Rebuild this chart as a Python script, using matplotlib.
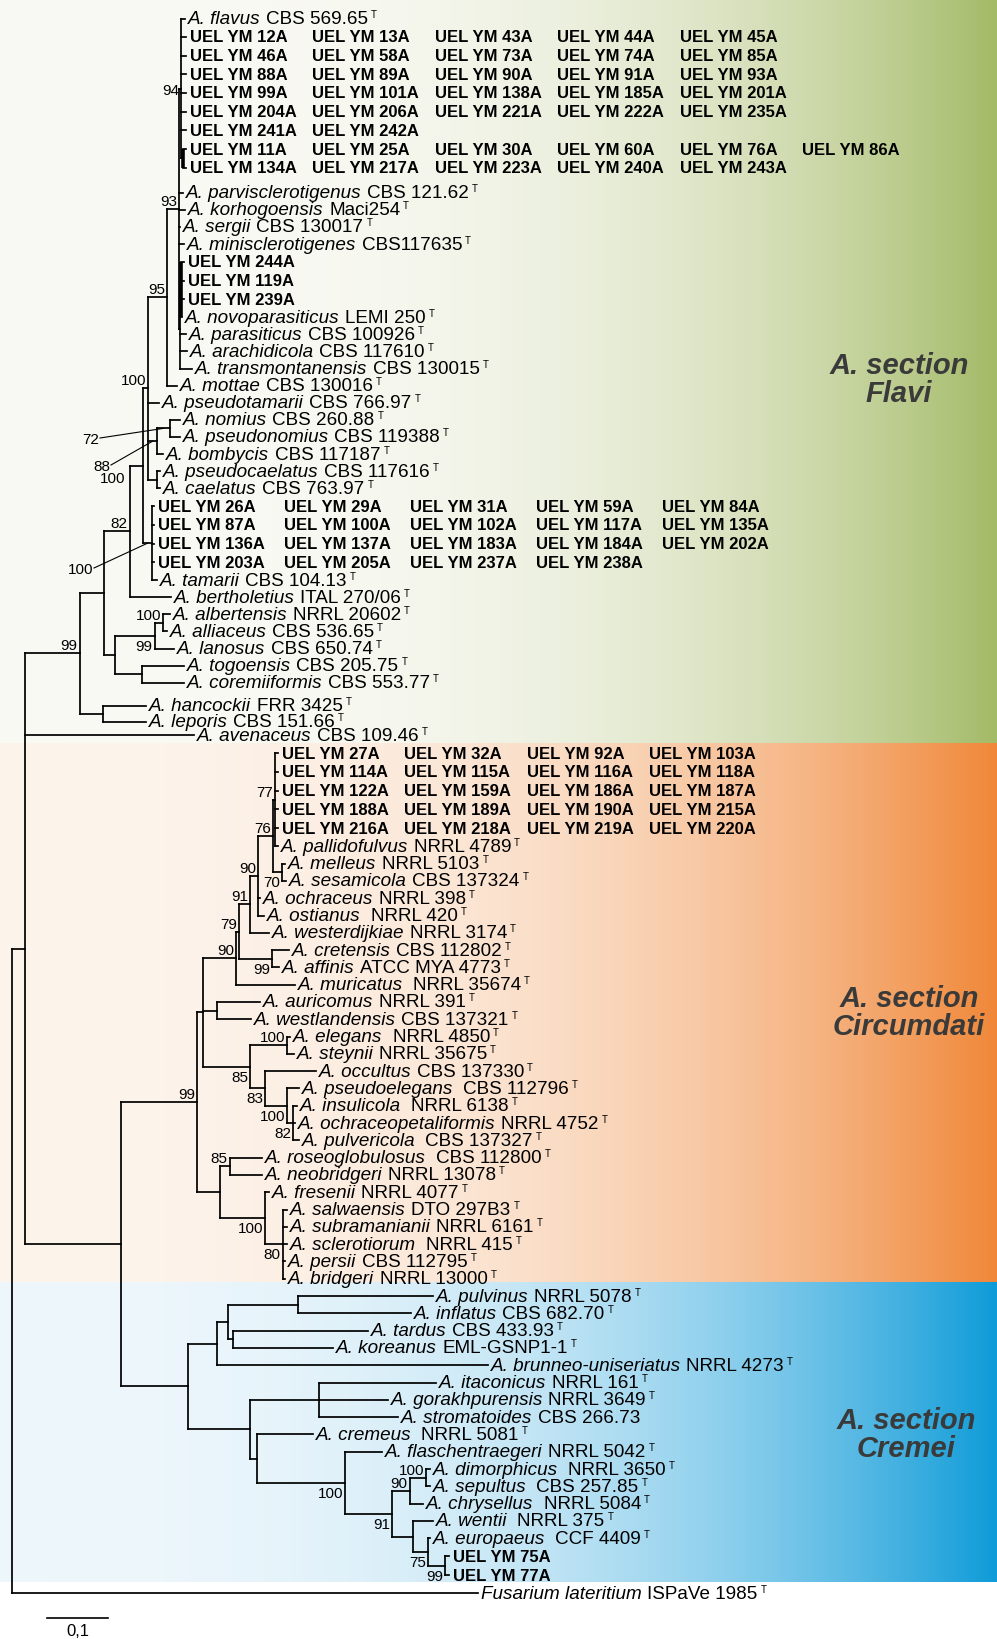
import numpy as np
import matplotlib
matplotlib.use("Agg")
import matplotlib.pyplot as plt
from matplotlib.collections import LineCollection

plt.rcParams['font.family'] = ['Liberation Sans', 'DejaVu Sans']

W, H, DPI = 997, 1640, 100
UNIT_PX = 610.0          # pixels per 1.0 substitution/site (scale bar 0.1 = 61 px)
ROOT_PX = 12.0

# ------------------------------------------------------------------ data
# leaves: key, italic name (None = UEL isolates row), strain / isolate ids, tip depth, type strain
FLAVI = [
    ("flavus", "A. flavus", "CBS 569.65", 0.284, True),
    ("uf1", None, "12A 13A 43A 44A 45A", 0.285, False),
    ("uf2", None, "46A 58A 73A 74A 85A", 0.285, False),
    ("uf3", None, "88A 89A 90A 91A 93A", 0.285, False),
    ("uf4", None, "99A 101A 138A 185A 201A", 0.285, False),
    ("uf5", None, "204A 206A 221A 222A 235A", 0.285, False),
    ("uf6", None, "241A 242A", 0.285, False),
    ("uf7", None, "11A 25A 30A 60A 76A 86A", 0.285, False),
    ("uf8", None, "134A 217A 223A 240A 243A", 0.285, False),
    ("parvisclerotigenus", "A. parvisclerotigenus", "CBS 121.62", 0.280, True),
    ("korhogoensis", "A. korhogoensis", "Maci254", 0.284, True),
    ("sergii", "A. sergii", "CBS 130017", 0.275, True),
    ("minisclerotigenes", "A. minisclerotigenes", "CBS117635", 0.282, True),
    ("uf9", None, "244A", 0.282, False),
    ("uf10", None, "119A", 0.282, False),
    ("uf11", None, "239A", 0.282, False),
    ("novoparasiticus", "A. novoparasiticus", "LEMI 250", 0.279, True),
    ("parasiticus", "A. parasiticus", "CBS 100926", 0.285, True),
    ("arachidicola", "A. arachidicola", "CBS 117610", 0.287, True),
    ("transmontanensis", "A. transmontanensis", "CBS 130015", 0.295, True),
    ("mottae", "A. mottae", "CBS 130016", 0.270, True),
    ("pseudotamarii", "A. pseudotamarii", "CBS 766.97", 0.241, True),
    ("nomius", "A. nomius", "CBS 260.88", 0.275, True),
    ("pseudonomius", "A. pseudonomius", "CBS 119388", 0.275, True),
    ("bombycis", "A. bombycis", "CBS 117187", 0.248, True),
    ("pseudocaelatus", "A. pseudocaelatus", "CBS 117616", 0.243, True),
    ("caelatus", "A. caelatus", "CBS 763.97", 0.243, True),
    ("uf12", None, "26A 29A 31A 59A 84A", 0.233, False),
    ("uf13", None, "87A 100A 102A 117A 135A", 0.233, False),
    ("uf14", None, "136A 137A 183A 184A 202A", 0.233, False),
    ("uf15", None, "203A 205A 237A 238A", 0.233, False),
    ("tamarii", "A. tamarii", "CBS 104.13", 0.238, True),
    ("bertholetius", "A. bertholetius", "ITAL 270/06", 0.261, True),
    ("albertensis", "A. albertensis", "NRRL 20602", 0.259, True),
    ("alliaceus", "A. alliaceus", "CBS 536.65", 0.254, True),
    ("lanosus", "A. lanosus", "CBS 650.74", 0.266, True),
    ("togoensis", "A. togoensis", "CBS 205.75", 0.282, True),
    ("coremiiformis", "A. coremiiformis", "CBS 553.77", 0.282, True),
    ("hancockii", "A. hancockii", "FRR 3425", 0.220, True),
    ("leporis", "A. leporis", "CBS 151.66", 0.220, True),
    ("avenaceus", "A. avenaceus", "CBS 109.46", 0.298, True),
]

CIRCUMDATI = [
    ("uc1", None, "27A 32A 92A 103A", 0.436, False),
    ("uc2", None, "114A 115A 116A 118A", 0.436, False),
    ("uc3", None, "122A 159A 186A 187A", 0.436, False),
    ("uc4", None, "188A 189A 190A 215A", 0.436, False),
    ("uc5", None, "216A 218A 219A 220A", 0.436, False),
    ("pallidofulvus", "A. pallidofulvus", "NRRL 4789", 0.436, True),
    ("melleus", "A. melleus", "NRRL 5103", 0.448, True),
    ("sesamicola", "A. sesamicola", "CBS 137324", 0.449, True),
    ("ochraceus", "A. ochraceus", "NRRL 398", 0.407, True),
    ("ostianus", "A. ostianus", " NRRL 420", 0.413, True),
    ("westerdijkiae", "A. westerdijkiae", "NRRL 3174", 0.421, True),
    ("cretensis", "A. cretensis", "CBS 112802", 0.454, True),
    ("affinis", "A. affinis", "ATCC MYA 4773", 0.438, True),
    ("muricatus", "A. muricatus", " NRRL 35674", 0.464, True),
    ("auricomus", "A. auricomus", "NRRL 391", 0.407, True),
    ("westlandensis", "A. westlandensis", "CBS 137321", 0.392, True),
    ("elegans", "A. elegans", " NRRL 4850", 0.456, True),
    ("steynii", "A. steynii", "NRRL 35675", 0.462, True),
    ("occultus", "A. occultus", "CBS 137330", 0.498, True),
    ("pseudoelegans", "A. pseudoelegans", " CBS 112796", 0.470, True),
    ("insulicola", "A. insulicola", " NRRL 6138", 0.467, True),
    ("ochraceopetaliformis", "A. ochraceopetaliformis", "NRRL 4752", 0.464, True),
    ("pulvericola", "A. pulvericola", " CBS 137327", 0.470, True),
    ("roseoglobulosus", "A. roseoglobulosus", " CBS 112800", 0.410, True),
    ("neobridgeri", "A. neobridgeri", "NRRL 13078", 0.410, True),
    ("fresenii", "A. fresenii", "NRRL 4077", 0.421, True),
    ("salwaensis", "A. salwaensis", "DTO 297B3", 0.451, True),
    ("subramanianii", "A. subramanianii", "NRRL 6161", 0.451, True),
    ("sclerotiorum", "A. sclerotiorum", " NRRL 415", 0.451, True),
    ("persii", "A. persii", "CBS 112795", 0.448, True),
    ("bridgeri", "A. bridgeri", "NRRL 13000", 0.448, True),
]

CREMEI = [
    ("pulvinus", "A. pulvinus", "NRRL 5078", 0.690, True),
    ("inflatus", "A. inflatus", "CBS 682.70", 0.654, True),
    ("tardus", "A. tardus", "CBS 433.93", 0.584, True),
    ("koreanus", "A. koreanus", "EML-GSNP1-1", 0.526, True),
    ("brunneouniseriatus", "A. brunneo-uniseriatus", "NRRL 4273", 0.780, True),
    ("itaconicus", "A. itaconicus", "NRRL 161", 0.695, True),
    ("gorakhpurensis", "A. gorakhpurensis", "NRRL 3649", 0.616, True),
    ("stromatoides", "A. stromatoides", "CBS 266.73", 0.633, False),
    ("cremeus", "A. cremeus", " NRRL 5081", 0.493, True),
    ("flaschentraegeri", "A. flaschentraegeri", "NRRL 5042", 0.607, True),
    ("dimorphicus", "A. dimorphicus", " NRRL 3650", 0.685, True),
    ("sepultus", "A. sepultus", " CBS 257.85", 0.685, True),
    ("chrysellus", "A. chrysellus", " NRRL 5084", 0.674, True),
    ("wentii", "A. wentii", " NRRL 375", 0.690, True),
    ("europaeus", "A. europaeus", " CCF 4409", 0.685, True),
    ("ucr1", None, "75A", 0.716, False),
    ("ucr2", None, "77A", 0.716, False),
]

OUTGROUP = [
    ("fusarium", "Fusarium lateritium", "ISPaVe 1985", 0.764, True),
]

# internal nodes: name, depth, children (top to bottom), bootstrap support
NODES_FLAVI = [
    ("nA", 0.280, ["uf7", "uf8"], None),
    ("n94", 0.277, ["flavus", "uf1", "uf2", "uf3", "uf4", "uf5", "uf6", "nA"], 94),
    ("nB", 0.277, ["uf9", "uf10", "uf11", "novoparasiticus"], None),
    ("nZ", 0.275, ["nB", "parasiticus", "arachidicola", "transmontanensis"], None),
    ("n93", 0.274, ["n94", "parvisclerotigenus", "korhogoensis", "sergii", "minisclerotigenes", "nZ"], 93),
    ("n95", 0.254, ["n93", "mottae"], 95),
    ("n72", 0.259, ["nomius", "pseudonomius"], 72),
    ("n88", 0.238, ["n72", "bombycis"], 88),
    ("nCael", 0.238, ["pseudocaelatus", "caelatus"], 100),
    ("n100a", 0.223, ["n95", "pseudotamarii", "n88", "nCael"], 100),
    ("nTam", 0.230, ["uf12", "uf13", "uf14", "uf15", "tamarii"], 100),
    ("n143", 0.215, ["n100a", "nTam"], None),
    ("n82", 0.193, ["n143", "bertholetius"], 82),
    ("nAlb", 0.248, ["albertensis", "alliaceus"], 100),
    ("nLan", 0.234, ["nAlb", "lanosus"], 99),
    ("nTogo", 0.213, ["togoensis", "coremiiformis"], None),
    ("n115", 0.169, ["nLan", "nTogo"], None),
    ("n104", 0.151, ["n82", "n115"], None),
    ("nHan", 0.149, ["hancockii", "leporis"], None),
    ("n99F", 0.111, ["n104", "nHan"], 99),
]

NODES_CIRC = [
    ("n77", 0.431, ["uc1", "uc2", "uc3", "uc4", "uc5", "pallidofulvus"], 77),
    ("n70", 0.443, ["melleus", "sesamicola"], 70),
    ("n76", 0.428, ["n77", "n70"], 76),
    ("n90a", 0.403, ["n76", "ochraceus", "ostianus"], 90),
    ("n91", 0.390, ["n90a", "westerdijkiae"], 91),
    ("nCre", 0.426, ["cretensis", "affinis"], 99),
    ("n79", 0.372, ["n91", "nCre"], 79),
    ("n90b", 0.367, ["n79", "muricatus"], 90),
    ("n217", 0.336, ["auricomus", "westlandensis"], None),
    ("nEle", 0.451, ["elegans", "steynii"], 100),
    ("n82c", 0.461, ["insulicola", "ochraceopetaliformis", "pulvericola"], 82),
    ("n100c", 0.451, ["pseudoelegans", "n82c"], 100),
    ("n83", 0.415, ["occultus", "n100c"], 83),
    ("n85", 0.390, ["nEle", "n83"], 85),
    ("n203", 0.313, ["n90b", "n217", "n85"], None),
    ("nRos", 0.357, ["roseoglobulosus", "neobridgeri"], 85),
    ("n80", 0.444, ["salwaensis", "subramanianii", "sclerotiorum", "persii", "bridgeri"], 80),
    ("n100d", 0.415, ["fresenii", "n80"], 100),
    ("n220", 0.341, ["nRos", "n100d"], None),
    ("n99C", 0.303, ["n203", "n220"], 99),
]

NODES_CREM = [
    ("nPul", 0.469, ["pulvinus", "inflatus"], None),
    ("nTar", 0.362, ["tardus", "koreanus"], None),
    ("n228", 0.354, ["nPul", "nTar"], None),
    ("n217c", 0.336, ["n228", "brunneouniseriatus"], None),
    ("nIta", 0.503, ["itaconicus", "gorakhpurensis", "stromatoides"], None),
    ("nDim", 0.679, ["dimorphicus", "sepultus"], 100),
    ("n90c", 0.652, ["nDim", "chrysellus"], 90),
    ("nUEL75", 0.710, ["ucr1", "ucr2"], 99),
    ("nEur", 0.682, ["europaeus", "nUEL75"], 75),
    ("nWen", 0.657, ["wentii", "nEur"], None),
    ("n91c", 0.623, ["n90c", "nWen"], 91),
    ("n100e", 0.546, ["flaschentraegeri", "n91c"], 100),
    ("n257", 0.402, ["cremeus", "n100e"], None),
    ("n250c", 0.390, ["nIta", "n257"], None),
    ("nCrem", 0.289, ["n217c", "n250c"], None),
]

NODES_BACKBONE = [
    ("nCC", 0.179, ["n99C", "nCrem"], None),
    ("n25", 0.021, ["n99F", "avenaceus", "nCC"], None),
    ("root", 0.0, ["n25", "fusarium"], None),
]

SCALE_BAR_LEN = 0.1
SCALE_BAR_LABEL = "0,1"
SECTION_NAMES = ["A. section\nFlavi", "A. section\nCircumdati", "A. section\nCremei"]

# ------------------------------------------------------------------ layout / style
FIRST_ROW_Y = 20.0
ROW_H_FLAVI = (17.1, 18.7)      # species row, isolate row
ROW_H_OTHER = (17.3, 18.8)
ROW_EXTRA = {"parvisclerotigenus": 7, "hancockii": 6, "leporis": -1.4, "avenaceus": -3.5}
COL_STEP = {"uf12": 126, "uf13": 126, "uf14": 126, "uf15": 126}
DEFAULT_COL_STEP = 122.5

FS_SP = 13.6
FS_UEL = 12.0
FS_BS = 11.0
LW = 1.25

SUPPORT_LAYOUT = {
    "n94": 1, "nLan": "below", "nCre": "below", "n70": "below", "n85": "below",
    "n83": "below", "n100c": "below", "n82c": "below", "n100d": "below", "n80": "below",
    "n91c": "below", "n100e": "below", "nEur": "below", "nUEL75": "below",
    "n72": ("free", 99, 440, True), "n88": ("free", 110, 467, True),
    "nCael": ("free", 125, 479, False), "nTam": ("free", 93, 570, True),
}
THICK = {"nA", "nB"}

BANDS = [  # y from, y to, left colour, right colour, exponent
    (0, 744, (250, 250, 245), (163, 186, 102), 3.2),
    (744, 1283, (253, 244, 236), (240, 135, 56), 2.6),
    (1283, 1583, (238, 247, 252), (14, 155, 216), 2.6),
]
SECTION_POS = [(899, 380), (909, 1013), (906, 1435)]

# ------------------------------------------------------------------ build
fig = plt.figure(figsize=(W / DPI, H / DPI), dpi=DPI)
ax = fig.add_axes([0, 0, 1, 1])
x_lo, x_hi = -ROOT_PX / UNIT_PX, (W - ROOT_PX) / UNIT_PX
ax.set_xlim(x_lo, x_hi)
ax.set_ylim(H, 0)
ax.axis("off")
R = fig.canvas.get_renderer()


def px2x(px):
    return (px - ROOT_PX) / UNIT_PX


def x2px(x):
    return x * UNIT_PX + ROOT_PX


# background gradients
img = np.ones((H, W, 3))
xs = np.arange(W) / (W - 1)
for y0, y1, lc, rc, p in BANDS:
    t = xs ** p
    lc = np.array(lc) / 255.0
    rc = np.array(rc) / 255.0
    row = lc[None, :] * (1 - t[:, None]) + rc[None, :] * t[:, None]
    img[y0:y1] = row[None, :, :]
ax.imshow(img, extent=(x_lo, x_hi, H, 0), aspect="auto", zorder=0, interpolation="bilinear")

flavi_keys = {k[0] for k in FLAVI}
leaves = FLAVI + CIRCUMDATI + CREMEI + OUTGROUP
depth = {}
ypos = {}
prev_h = None
y = FIRST_ROW_Y
for i, (key, name, strain, d, typ) in enumerate(leaves):
    hs, hu = ROW_H_FLAVI if key in flavi_keys else ROW_H_OTHER
    h = hu if name is None else hs
    if i > 0:
        y += (prev_h + h) / 2 + ROW_EXTRA.get(key, 0)
    ypos[key] = y
    depth[key] = d
    prev_h = h

nodes = NODES_FLAVI + NODES_CIRC + NODES_CREM + NODES_BACKBONE
for name, d, ch, s in nodes:
    depth[name] = d
    ys = [ypos[c] for c in ch]
    ypos[name] = (min(ys) + max(ys)) / 2

segs, thick_segs = [], []
for name, d, ch, s in nodes:
    ys = [ypos[c] for c in ch]
    (thick_segs if name in THICK else segs).append([(d, min(ys)), (d, max(ys))])
    for c in ch:
        segs.append([(d, ypos[c]), (depth[c], ypos[c])])
ax.add_collection(LineCollection(segs, colors="black", linewidths=LW, capstyle="projecting", zorder=3))
ax.add_collection(LineCollection(thick_segs, colors="black", linewidths=2.6, capstyle="butt", zorder=3))


def place(xpx, yy, s, **kw):
    t = ax.text(px2x(xpx), yy, s, zorder=4, **kw)
    bb = t.get_window_extent(renderer=R)
    return bb.x1


# leaf labels
for key, name, strain, d, typ in leaves:
    yy = ypos[key]
    x0 = x2px(d)
    if name is None:
        step = COL_STEP.get(key, DEFAULT_COL_STEP)
        for j, idn in enumerate(strain.split()):
            place(x0 + 4 + j * step, yy, "UEL YM " + idn, fontsize=FS_UEL,
                  fontweight="bold", va="center", ha="left")
    else:
        x1 = place(x0 + 3, yy, name, fontsize=FS_SP, style="italic", va="center", ha="left")
        gap = 10 if strain.startswith(" ") else 5.3
        x2 = place(x1 + gap, yy, strain.strip(), fontsize=FS_SP, va="center", ha="left")
        if typ:
            place(x2 + 3, yy - 9.5, "T", fontsize=7.0, va="top", ha="left")

# bootstrap supports
for name, d, ch, s in nodes:
    if s is None:
        continue
    lay = SUPPORT_LAYOUT.get(name, "above")
    nx, ny = x2px(d), ypos[name]
    if isinstance(lay, tuple):
        _, rx, cy, leader = lay
        ax.text(px2x(rx), cy, str(s), fontsize=FS_BS, ha="right", va="center", zorder=4)
        if leader:
            parent_d = [pd for pn, pd, pch, ps in nodes if name in pch][0]
            mx = (parent_d + d) / 2
            ax.plot([px2x(rx + 1), mx], [cy - 1, ny], color="black", lw=0.8, zorder=3)
        continue
    if lay == "above":
        cy = ny - 8
    elif lay == "below":
        cy = ny + 10
    else:
        cy = ny + lay
    ax.text(px2x(nx - 2), cy, str(s), fontsize=FS_BS, ha="right", va="center", zorder=4)

# section labels
for (sx, sy), lab in zip(SECTION_POS, SECTION_NAMES):
    ax.text(px2x(sx), sy, lab, fontsize=21, fontweight="bold", style="italic",
            color="#3a3a3a", ha="center", va="center", linespacing=1.0, zorder=4)

# scale bar
sb_x0 = px2x(47)
ax.plot([sb_x0, sb_x0 + SCALE_BAR_LEN], [1619, 1619], color="black", lw=1.2, zorder=4)
ax.text(sb_x0 + SCALE_BAR_LEN / 2, 1632, SCALE_BAR_LABEL, fontsize=12, ha="center", va="center", zorder=4)

fig.savefig("out.png", dpi=DPI)
